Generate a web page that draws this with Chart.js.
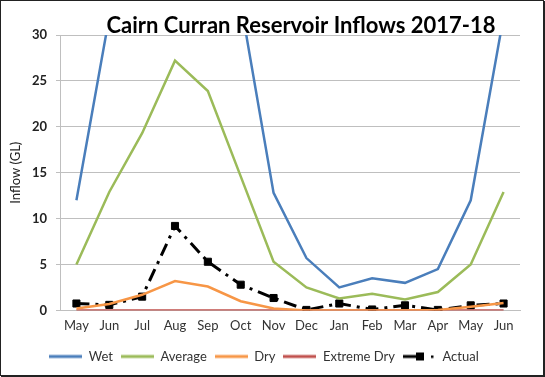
<!DOCTYPE html>
<html>
<head>
<meta charset="utf-8">
<script src="https://cdn.jsdelivr.net/npm/chart.js@4.4.1/dist/chart.umd.min.js"></script>
<style>
    html, body { margin: 0; padding: 0; background: #fff; }
    #wrap { width: 545px; height: 377px; position: relative; }
</style>
</head>
<body>
<div id="wrap"><canvas id="chartInflows"></canvas></div>
<script>
const months = ['May', 'Jun', 'Jul', 'Aug', 'Sep', 'Oct', 'Nov', 'Dec', 'Jan', 'Feb', 'Mar', 'Apr', 'May', 'Jun'];

// Wet Jul-Sep run off the top of the chart, values there are guesses
const wet        = [12.0, 32.0, 55.0, 70.0, 60.0, 33.5, 12.8, 5.7, 2.5, 3.5, 3.0, 4.5, 12.0, 32.0];
const average    = [5.0, 12.9, 19.3, 27.2, 23.9, 14.6, 5.3, 2.5, 1.3, 1.8, 1.2, 2.0, 5.0, 12.9];
const dry        = [0.2, 0.7, 1.7, 3.2, 2.6, 1.0, 0.2, 0, 0, 0, 0, 0.05, 0.4, 0.8];
const extremeDry = [0, 0, 0, 0, 0, 0, 0, 0, 0, 0, 0, 0, 0, 0];
const actual     = [0.75, 0.6, 1.5, 9.2, 5.3, 2.8, 1.35, 0.05, 0.75, 0.1, 0.55, 0.05, 0.55, 0.75];

const yMin = 0, yMax = 30, yStep = 5;
const titleText = 'Cairn Curran Reservoir Inflows 2017-18';

const FONT = 'Lato, "Open Sans", sans-serif';

// little legend swatches, drawn like Excel's (line, or line + marker)
function swatch(color, marker) {
    const c = document.createElement('canvas');
    c.width = 33; c.height = 12;
    const g = c.getContext('2d');
    g.strokeStyle = color;
    g.fillStyle = color;
    g.lineWidth = 3;
    if (!marker) {
        g.beginPath(); g.moveTo(0, 6); g.lineTo(33, 6); g.stroke();
    } else {
        g.beginPath(); g.moveTo(0, 6); g.lineTo(14, 6); g.stroke();
        g.fillRect(13, 2, 8, 8);
        g.fillRect(28, 5, 2.5, 2.5);
    }
    return c;
}
const swatches = [
    swatch('#4a7ebb'), swatch('#9bbb59'), swatch('#f79646'), swatch('#c0504d'), swatch('#000', true)
];

const titlePlugin = {
    id: 'excelTitle',
    afterDraw(chart) {
        const c = chart.ctx;
        c.save();
        c.font = 'bold 22px ' + FONT;
        c.fillStyle = '#000';
        c.textAlign = 'center';
        c.textBaseline = 'alphabetic';
        c.fillText(titleText, 301, 33);
        // outer frame
        c.strokeStyle = '#222';
        c.lineWidth = 1;
        c.strokeRect(0.5, 0.5, 543, 375);
        c.lineWidth = 2;
        c.beginPath();
        c.moveTo(544, 1); c.lineTo(544, 376); c.lineTo(1, 376);
        c.stroke();
        c.restore();
    }
};

const ctx = document.getElementById('chartInflows').getContext('2d');

const inflowChart = new Chart(ctx, {
    type: 'line',
    data: {
        labels: months,
        datasets: [
            { label: 'Wet', data: wet, borderColor: '#4a7ebb', backgroundColor: '#4a7ebb', borderWidth: 2.5, pointRadius: 0 },
            { label: 'Average', data: average, borderColor: '#9bbb59', backgroundColor: '#9bbb59', borderWidth: 2.5, pointRadius: 0 },
            { label: 'Dry', data: dry, borderColor: '#f79646', backgroundColor: '#f79646', borderWidth: 2.5, pointRadius: 0 },
            { label: 'Extreme Dry', data: extremeDry, borderColor: '#c0504d', backgroundColor: '#c0504d', borderWidth: 2.5, pointRadius: 0 },
            {
                label: 'Actual',
                data: actual,
                borderColor: '#000',
                backgroundColor: '#000',
                borderWidth: 3,
                borderDash: [13, 6, 3, 6],
                pointStyle: 'rect',
                pointRadius: 5,
                pointBorderWidth: 1,
                pointBackgroundColor: '#000',
                pointBorderColor: '#000'
            }
        ]
    },
    options: {
        responsive: true,
        maintainAspectRatio: false,
        animation: false,
        elements: { line: { tension: 0 } },
        layout: { padding: { left: 8, right: 25, top: 35, bottom: 4 } },
        plugins: {
            title: { display: false },
            tooltip: { enabled: false },
            legend: {
                position: 'bottom',
                labels: {
                    usePointStyle: true,
                    pointStyleWidth: 33,
                    padding: 8,
                    color: '#333',
                    font: { family: FONT, size: 13 },
                    generateLabels(chart) {
                        const items = Chart.defaults.plugins.legend.labels.generateLabels(chart);
                        items.forEach((it, i) => { it.pointStyle = swatches[i]; });
                        return items;
                    }
                }
            }
        },
        scales: {
            x: {
                offset: true,
                grid: { display: false, drawTicks: false },
                border: { color: '#bfbfbf', width: 1 },
                ticks: { color: '#333', padding: 8, font: { family: FONT, size: 13 }, maxRotation: 0, autoSkip: false }
            },
            y: {
                min: yMin,
                max: yMax,
                afterFit(scale) { scale.width = 52; },
                ticks: { stepSize: yStep, color: '#222', padding: 9, font: { family: FONT, size: 13, weight: 'bold' } },
                grid: { color: '#bfbfbf', lineWidth: 1, tickLength: 4 },
                border: { color: '#bfbfbf', width: 1 },
                title: {
                    display: true,
                    text: 'Inflow (GL)',
                    color: '#222',
                    font: { family: FONT, size: 13 },
                    padding: { top: 0, bottom: 0 }
                }
            }
        }
    },
    plugins: [titlePlugin]
});
</script>
</body>
</html>
